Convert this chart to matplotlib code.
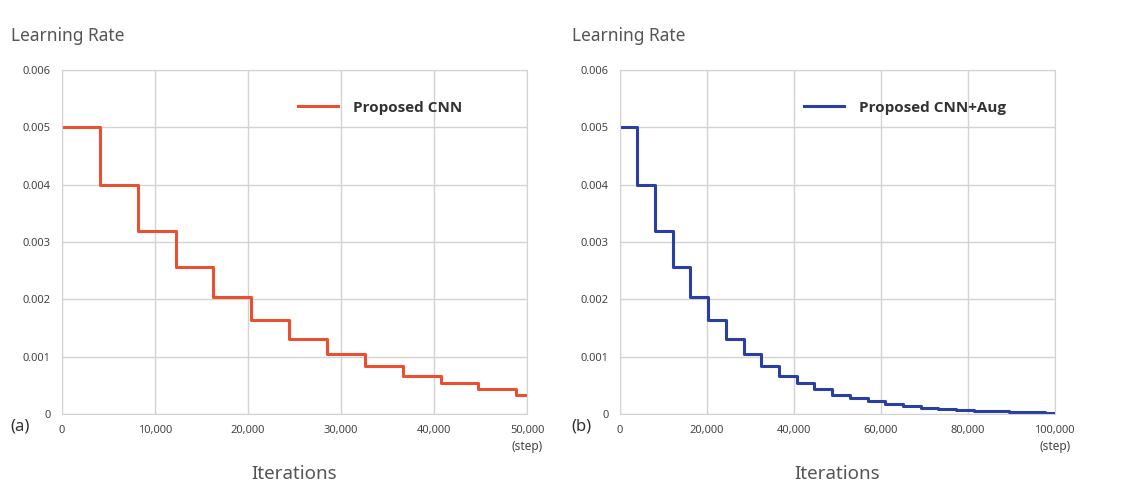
import matplotlib.pyplot as plt
import matplotlib as mpl

mpl.rcParams['font.family'] = ['Noto Sans', 'DejaVu Sans']

# step boundaries (iteration where each learning-rate level starts)
steps_a = [0, 4070, 8140, 12210, 16280, 20350, 24420, 28490, 32560, 36630,
           40700, 44770, 48840, 50000]
lr_a = [0.005, 0.004, 0.0032, 0.00256, 0.00205, 0.00164, 0.00131, 0.00105,
        0.00084, 0.00067, 0.00054, 0.00043, 0.00034, 0.00034]

steps_b = [0, 4070, 8140, 12210, 16280, 20350, 24420, 28490, 32560, 36630,
           40700, 44770, 48840, 52910, 56980, 61050, 65120, 69190, 73260,
           77330, 81400, 85470, 89540, 93610, 97680, 100000]
lr_b = [0.005, 0.004, 0.0032, 0.00256, 0.00205, 0.00164, 0.00131, 0.00105,
        0.00084, 0.00067, 0.00054, 0.00043, 0.00034, 0.000275, 0.00022,
        0.000176, 0.000141, 0.000113, 0.00009, 0.000072, 0.000058, 0.000046,
        0.000037, 0.00003, 0.000024, 0.000024]

yticks = [0, 0.001, 0.002, 0.003, 0.004, 0.005, 0.006]
ytick_labels = ['0', '0.001', '0.002', '0.003', '0.004', '0.005', '0.006']
xticks_a = [0, 10000, 20000, 30000, 40000, 50000]
xticks_b = [0, 20000, 40000, 60000, 80000, 100000]

RED = '#e9502f'
BLUE = '#2a3fa3'
GRID = '#d3d3d3'
TXT = '#555555'

fig = plt.figure(figsize=(11.37, 4.86), dpi=100)
ax_a = fig.add_axes([0.0545, 0.148, 0.409, 0.708])
ax_b = fig.add_axes([0.545, 0.148, 0.3826, 0.708])

panels = [
    (ax_a, steps_a, lr_a, xticks_a, RED, 'Proposed CNN', '(a)', 0.495),
    (ax_b, steps_b, lr_b, xticks_b, BLUE, 'Proposed CNN+Aug', '(b)', 0.41),
]

for ax, xs, ys, xt, color, label, tag, lx in panels:
    ax.step(xs, ys, where='post', color=color, linewidth=2.2, label=label)
    ax.set_xlim(xt[0], xt[-1])
    ax.set_ylim(0, 0.006)
    ax.set_xticks(xt)
    ax.set_xticklabels([f'{v:,}' for v in xt])
    ax.set_yticks(yticks)
    ax.set_yticklabels(ytick_labels)
    ax.tick_params(length=0, labelsize=8, labelcolor='#444444', pad=8)
    ax.grid(True, color=GRID, linewidth=1)
    ax.set_axisbelow(True)
    for s in ax.spines.values():
        s.set_color(GRID)
    leg = ax.legend(loc='center left', bbox_to_anchor=(lx, 0.89), frameon=False,
                    handlelength=2.6, handletextpad=1.0, borderaxespad=0,
                    prop={'family': 'Open Sans', 'weight': 'bold', 'size': 11})
    for t in leg.get_texts():
        t.set_color('#333333')
    ax.text(-0.11, 1.10, 'Learning Rate', transform=ax.transAxes, fontsize=12.5,
            color=TXT, ha='left', va='center')
    ax.text(-0.11, -0.035, tag, transform=ax.transAxes, fontsize=12,
            color='#333333', ha='left', va='center')
    ax.text(1.0, -0.095, '(step)', transform=ax.transAxes, fontsize=8.5,
            color='#444444', ha='center', va='center')
    ax.text(0.5, -0.175, 'Iterations', transform=ax.transAxes, fontsize=13.5,
            color=TXT, ha='center', va='center')

fig.savefig('out.png', dpi=100)
